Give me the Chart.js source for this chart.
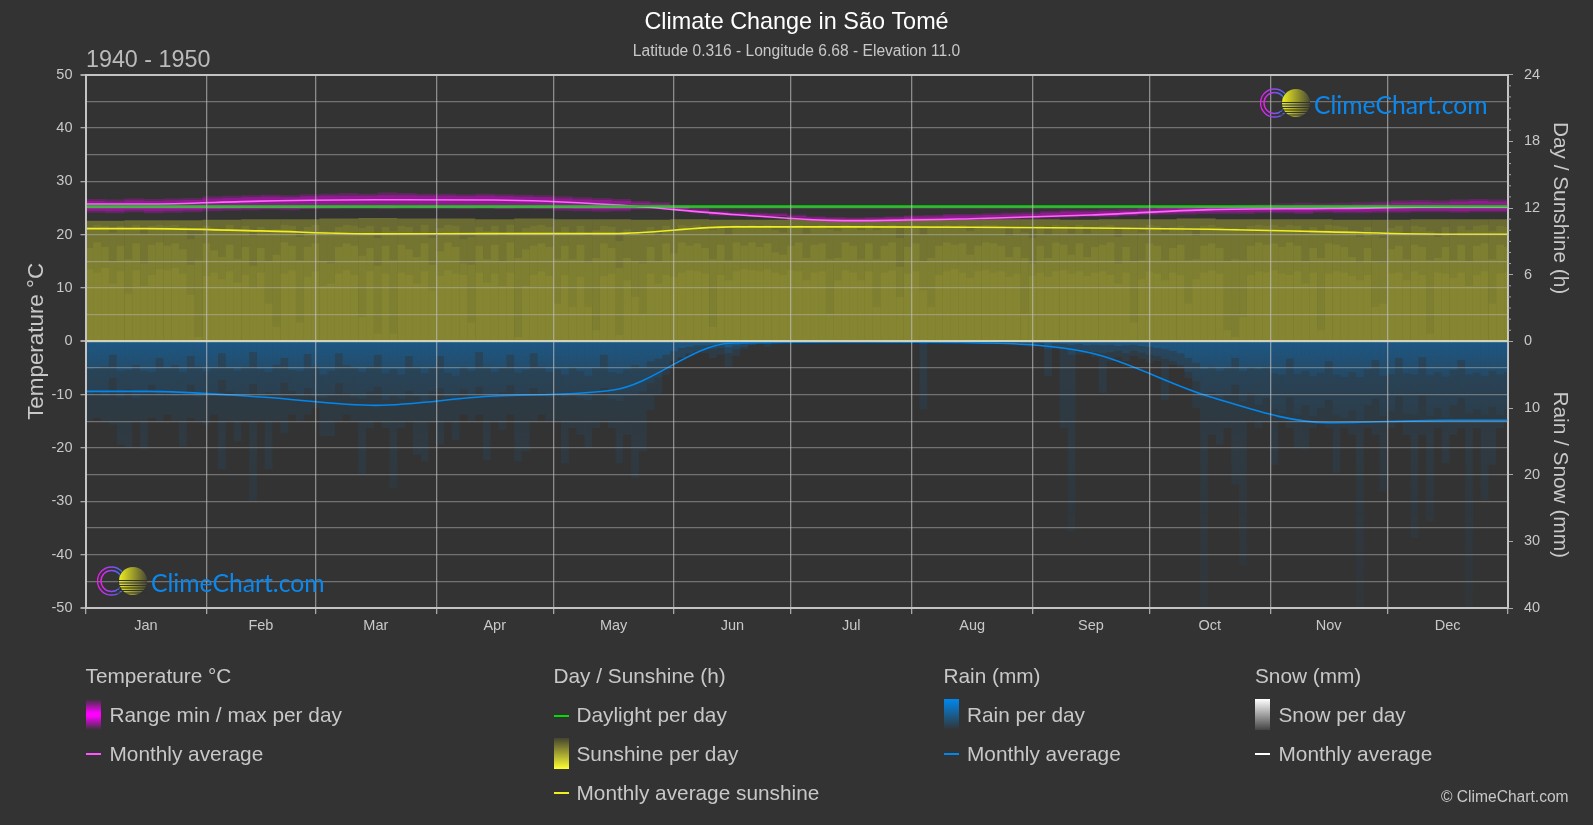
<!DOCTYPE html>
<html>
<head>
<meta charset="utf-8">
<title>Climate Change in São Tomé</title>
<script src="https://cdn.jsdelivr.net/npm/chart.js@4"></script>
<style>
  html, body { margin: 0; padding: 0; background: #333; overflow: hidden; }
  body { width: 1593px; height: 825px; position: relative; font-family: "Liberation Sans", Arial, sans-serif; color: #c8c8c8; }
  canvas { position: absolute; left: 0; top: 0; }
  .txt { position: absolute; white-space: nowrap; transform: translateY(-50%); font-size: 20.8px; line-height: 24px; }
  .period { font-size: 23.3px; color: #bbb; }
  .copy { font-size: 15.6px; }
  .brand { font-family: Lato, sans-serif; font-size: 24.7px; color: #0a88ee; }
  .swatch { position: absolute; width: 15px; height: 31px; }
  .dash { position: absolute; width: 15px; height: 2px; }
  .logo { position: absolute; width: 50px; height: 30px; }
</style>
</head>
<body>
<canvas id="chart" width="1593" height="825"></canvas>

<svg width="0" height="0" style="position:absolute">
  <defs>
    <linearGradient id="ringGrad" x1="0" x2="1" y1="0" y2="0">
      <stop offset="0" stop-color="#f01cf0"/><stop offset="1" stop-color="#2a78f0"/>
    </linearGradient>
    <linearGradient id="sunGrad" x1="0" x2="1" y1="0" y2="0">
      <stop offset="0" stop-color="#eeee22"/><stop offset="1" stop-color="#4a4a33"/>
    </linearGradient>
    <symbol id="logoMark" viewBox="0 0 50 30">
      <circle cx="14.5" cy="15" r="14" fill="none" stroke="url(#ringGrad)" stroke-width="1.4"/>
      <circle cx="14.5" cy="15" r="10.5" fill="none" stroke="url(#ringGrad)" stroke-width="1.4"/>
      <circle cx="36" cy="15" r="14.5" fill="#333"/>
      <circle cx="36" cy="15" r="14" fill="url(#sunGrad)"/>
      <g stroke="#333" stroke-width="1">
        <line x1="20" x2="50" y1="14.5" y2="14.5"/><line x1="20" x2="50" y1="17" y2="17"/>
        <line x1="20" x2="50" y1="19.5" y2="19.5"/><line x1="20" x2="50" y1="22" y2="22"/>
        <line x1="20" x2="50" y1="24.5" y2="24.5"/><line x1="20" x2="50" y1="27" y2="27"/>
      </g>
    </symbol>
  </defs>
</svg>

<div class="txt period" style="left:86px;top:59px">1940 - 1950</div>

<svg class="logo" style="left:1260px;top:88px"><use href="#logoMark"/></svg>
<div class="txt brand" style="left:1314px;top:105px">ClimeChart.com</div>
<svg class="logo" style="left:97px;top:566px"><use href="#logoMark"/></svg>
<div class="txt brand" style="left:151px;top:583px">ClimeChart.com</div>

<div class="txt" style="left:85.5px;top:676px">Temperature °C</div>
<div class="swatch" style="left:85.5px;top:699px;background:linear-gradient(#333,#f0f 45%,#f0f 55%,#333)"></div>
<div class="txt" style="left:109.5px;top:715px">Range min / max per day</div>
<div class="dash" style="left:85.5px;top:753px;background:#ff55ff"></div>
<div class="txt" style="left:109.5px;top:754px">Monthly average</div>

<div class="txt" style="left:553.5px;top:676px">Day / Sunshine (h)</div>
<div class="dash" style="left:553.5px;top:714.5px;background:#00dd00"></div>
<div class="txt" style="left:576.5px;top:715px">Daylight per day</div>
<div class="swatch" style="left:553.5px;top:738px;background:linear-gradient(#44442f,#ffff33)"></div>
<div class="txt" style="left:576.5px;top:754px">Sunshine per day</div>
<div class="dash" style="left:553.5px;top:792px;background:#eeee22"></div>
<div class="txt" style="left:576.5px;top:793px">Monthly average sunshine</div>

<div class="txt" style="left:943.5px;top:676px">Rain (mm)</div>
<div class="swatch" style="left:943.5px;top:699px;background:linear-gradient(#0088ee,#333)"></div>
<div class="txt" style="left:967px;top:715px">Rain per day</div>
<div class="dash" style="left:943.5px;top:753px;background:#0088ee"></div>
<div class="txt" style="left:967px;top:754px">Monthly average</div>

<div class="txt" style="left:1255px;top:676px">Snow (mm)</div>
<div class="swatch" style="left:1255px;top:699px;background:linear-gradient(#fff,#444)"></div>
<div class="txt" style="left:1278.5px;top:715px">Snow per day</div>
<div class="dash" style="left:1255px;top:753px;background:#fff"></div>
<div class="txt" style="left:1278.5px;top:754px">Monthly average</div>

<div class="txt copy" style="left:1441px;top:797px">© ClimeChart.com</div>

<script>
const monthLabels = ["Jan", "Feb", "Mar", "Apr", "May", "Jun", "Jul", "Aug", "Sep", "Oct", "Nov", "Dec"];
const monthEdges = [0, 31, 59, 90, 120, 151, 181, 212, 243, 273, 304, 334, 365];
const monthMids = [15.5, 45, 74.5, 105, 135.5, 166, 196.5, 227.5, 258, 288.5, 319, 349.5];

// monthly averages
const tempMonthly = [25.75, 26.3, 26.55, 26.5, 25.6, 23.8, 22.6, 23.0, 23.7, 24.7, 24.9, 25.2];
const daylightMonthly = [12.15, 12.15, 12.15, 12.15, 12.15, 12.15, 12.15, 12.15, 12.15, 12.15, 12.15, 12.15];
const sunMonthly = [10.15, 9.94, 9.67, 9.7, 9.7, 10.3, 10.3, 10.27, 10.2, 10.09, 9.85, 9.64];
const rainMonthly = [7.5, 8.35, 9.6, 8.2, 7.3, 0.25, 0.1, 0.2, 1.75, 8.3, 12.2, 11.85];
const snowMonthly = [0, 0, 0, 0, 0, 0, 0, 0, 0, 0, 0, 0];

// temperature band, one value per 5 days
const tempMax = [
  26.7,26.6,26.8,26.7,26.8,26.9, 27.2,27.3,27.4,27.5,27.4,27.6,
  27.7,27.8,27.7,27.9,27.8,27.7, 27.7,27.6,27.7,27.6,27.5,27.4,
  27.2,27.0,26.9,26.7,26.3,26.1, 25.6,24.9,24.4,24.2,24.1,24.0,
  23.8,23.4,23.3,23.2,23.3,23.4, 23.6,23.7,23.9,23.9,24.0,24.1,
  24.2,24.4,24.6,24.6,24.7,24.8, 25.0,25.2,25.3,25.5,25.5,25.6,
  25.7,25.9,26.0,25.9,26.0,26.1, 26.2,26.4,26.5,26.4,26.6,26.7,26.6];
const tempMin = [
  24.1,24.0,24.2,24.0,24.1,24.2, 24.4,24.5,24.6,24.7,24.6,24.8,
  24.9,25.0,25.0,24.9,25.1,25.0, 25.0,24.9,25.0,24.8,24.9,24.8,
  24.5,24.4,24.3,24.4,24.7,24.9, 24.6,24.0,23.6,23.5,23.4,23.4,
  23.0,22.5,22.3,22.3,22.4,22.4, 22.5,22.6,22.6,22.7,22.8,22.9,
  23.0,23.1,23.2,23.3,23.3,23.5, 23.7,23.8,23.8,23.9,23.9,23.9,
  24.0,24.0,23.9,24.1,24.0,24.0, 24.1,24.1,24.2,24.2,24.1,24.2,24.2];
const tempCoreMax = [
  26.3,26.2,26.4,26.3,26.4,26.5, 26.8,26.9,27.0,27.1,27.0,27.2,
  27.3,27.3,27.3,27.4,27.4,27.3, 27.3,27.2,27.3,27.2,27.1,27.0,
  26.8,26.6,26.5,26.3,26.0,25.8, 25.3,24.6,24.2,24.0,23.9,23.8,
  23.5,23.2,23.1,23.0,23.1,23.2, 23.4,23.4,23.6,23.6,23.7,23.8,
  23.9,24.1,24.3,24.3,24.4,24.5, 24.7,24.9,25.0,25.2,25.2,25.3,
  25.4,25.5,25.6,25.6,25.6,25.7, 25.8,26.0,26.1,26.0,26.2,26.3,26.2];
const tempCoreMin = [
  24.5,24.4,24.6,24.4,24.5,24.6, 24.8,24.9,25.0,25.1,25.0,25.2,
  25.3,25.4,25.4,25.3,25.5,25.4, 25.4,25.3,25.4,25.2,25.3,25.2,
  24.9,24.8,24.7,24.7,24.9,25.1, 24.8,24.2,23.8,23.6,23.5,23.5,
  23.2,22.6,22.5,22.4,22.5,22.5, 22.6,22.8,22.8,22.9,23.0,23.1,
  23.2,23.3,23.4,23.5,23.5,23.7, 23.9,24.0,24.1,24.2,24.2,24.2,
  24.3,24.3,24.2,24.4,24.3,24.3, 24.4,24.4,24.5,24.5,24.4,24.5,24.5];

// sunshine per day (hours): top edge per 10 days, the others per 2 days
const sunshineHigh = [
  10.85,10.9,10.9,10.95,11.0,11.0,11.05,11.1,11.05,11.05,11.0,11.05,11.0,11.0,10.95,
  11.0,10.95,10.95,11.0,11.0,11.0,11.05,10.95,11.0,11.0,10.95,11.0,11.0,11.05,11.0,
  11.0,11.0,10.95,10.95,11.0,11.0,11.0];
const sunshineUpper = [
  10.3,10.5,10.4,9.8,10.4,10.1,10.5,9.7,10.4,10.5,
  10.4,10.5,10.3,9.2,9.6,10.4,10.2,10.0,10.5,9.9,
  10.4,9.5,10.3,9.8,10.1,10.5,10.4,9.4,10.3,10.5,
  9.9,9.6,10.3,10.5,10.4,10.2,10.4,9.3,10.3,9.9,
  10.4,10.3,9.8,10.5,9.3,10.2,10.5,10.4,9.2,9.4,
  10.3,9.9,10.4,9.5,10.5,9.8,10.2,10.4,10.5,10.3,
  9.8,10.3,9.7,10.4,9.5,10.0,10.4,10.3,9.0,10.1,
  9.8,9.6,10.3,9.5,10.4,10.1,10.5,10.4,10.5,10.3,
  10.0,10.4,9.6,10.5,10.4,10.5,10.3,10.5,10.0,9.8,
  10.4,10.5,9.7,10.4,10.5,10.1,9.9,10.5,10.4,10.0,
  10.5,10.0,10.4,10.5,9.3,10.4,10.5,9.6,10.2,10.4,
  10.5,10.4,10.5,9.9,10.4,10.5,10.5,10.4,9.5,10.3,
  9.8,9.3,10.4,9.6,10.5,10.4,9.7,10.5,9.7,10.3,
  10.4,10.5,9.4,10.3,10.0,9.8,10.5,10.4,9.8,10.3,
  10.4,9.9,9.5,10.4,10.5,10.3,10.0,10.2,9.9,10.4,
  10.5,10.4,10.5,10.3,10.5,10.4,9.7,10.3,9.9,10.5,
  10.4,10.3,9.8,9.4,10.3,9.5,9.3,10.2,10.4,9.7,
  10.4,10.3,9.9,9.4,10.3,9.5,10.4,10.0,10.4,10.5,
  9.9,10.4,10.3];
const sunshineMid = [
  8.4,8.9,8.5,7.2,8.6,7.4,8.8,7.0,8.7,8.9,
  8.6,8.8,8.3,6.9,7.3,8.8,8.2,7.6,8.7,7.4,
  8.5,6.8,8.4,7.2,7.8,8.9,8.6,7.3,8.5,8.8,
  7.2,7.0,8.5,8.8,8.6,7.7,8.4,6.8,8.6,7.3,
  8.7,8.3,7.6,8.8,6.9,8.1,8.9,8.5,7.0,6.9,
  8.6,7.4,8.7,7.2,8.9,7.5,8.3,8.6,8.8,8.5,
  7.4,8.6,7.4,8.7,7.1,7.5,8.8,8.4,6.6,7.5,
  7.2,7.0,8.5,7.2,8.8,7.9,8.9,8.6,8.8,8.4,
  7.4,8.7,7.3,8.9,8.6,8.9,8.5,8.8,8.0,7.8,
  8.6,8.9,7.5,8.7,8.8,7.4,7.5,8.9,8.6,7.4,
  8.8,7.4,8.6,8.9,6.7,8.5,8.8,7.2,7.5,8.6,
  8.9,8.7,8.8,7.8,8.6,8.9,8.8,8.6,7.6,8.5,
  7.5,7.0,8.6,7.5,8.9,8.7,7.8,8.8,7.6,8.5,
  8.7,8.9,7.0,8.5,7.2,7.3,8.8,8.6,7.3,8.4,
  8.7,7.3,7.4,8.6,8.8,8.4,7.2,7.4,7.3,8.6,
  8.9,8.7,8.8,8.5,8.9,8.6,7.2,8.4,7.5,8.8,
  8.7,8.5,7.6,7.1,8.4,7.2,7.1,8.3,8.6,7.4,
  8.7,8.5,7.3,7.5,8.5,7.3,8.7,7.2,8.6,8.8,
  7.4,8.7,8.5];
const sunshineLow = [
  6.5,6.2,6.6,5.2,6.3,4.3,6.4,5.0,6.0,6.5,
  6.4,6.6,6.1,4.2,0.4,5.9,6.2,5.6,6.3,5.3,
  6.0,4.8,6.2,3.4,1.3,6.1,6.4,1.7,5.8,6.3,
  5.0,5.2,6.1,6.4,6.0,2.2,6.3,0.7,6.1,0.7,
  6.2,6.0,5.2,6.3,4.6,5.9,6.4,6.1,6.0,1.7,
  6.2,5.3,6.1,5.0,6.2,0.4,5.0,6.0,6.3,5.9,
  3.4,6.0,3.1,5.8,3.1,1.0,5.9,6.1,0.6,5.5,
  4.0,2.5,6.1,5.2,6.0,5.8,6.2,6.4,6.3,6.1,
  1.3,6.0,5.5,6.3,6.5,6.4,6.3,6.5,6.2,6.0,
  6.4,6.3,5.5,6.2,6.3,2.5,5.5,6.4,6.2,5.5,
  6.3,3.1,6.2,6.4,4.0,6.1,6.3,4.6,3.1,6.0,
  6.3,6.5,6.2,5.7,6.3,6.4,6.2,6.3,5.8,6.1,
  2.5,5.9,6.2,5.8,6.3,6.4,6.1,6.3,5.9,6.2,
  6.3,6.0,5.2,6.2,1.7,5.6,6.3,6.1,5.5,6.2,
  6.0,3.4,5.6,6.2,6.4,6.1,1.0,0.4,2.2,6.0,
  6.3,6.2,6.4,6.1,6.0,6.3,5.2,6.2,1.0,6.1,
  6.3,6.2,5.9,5.5,6.0,3.1,3.4,6.1,6.2,5.5,
  6.3,6.0,0.7,6.2,6.1,5.7,6.2,5.0,6.0,6.3,
  3.4,6.1,6.2];

// rain per day (mm), per 2 days: bright part, middle part and the faint spikes
const rainLow = [
  4.2,4.0,3.8,2.0,4.5,4.3,3.6,4.4,4.6,2.5,
  4.0,3.6,4.6,2.2,3.8,4.5,4.0,1.8,4.0,4.4,
  3.8,1.6,4.2,4.6,3.5,2.5,4.3,4.5,1.9,3.8,
  5.0,4.4,1.8,3.6,3.9,4.6,3.8,2.0,4.8,4.2,
  5.0,2.2,3.9,4.8,4.0,2.2,4.7,5.2,3.8,4.4,
  1.6,3.9,4.6,4.0,2.0,4.7,4.3,1.8,3.8,4.6,
  4.2,5.0,3.9,4.5,5.2,4.0,2.0,4.6,4.8,4.2,
  3.6,4.0,3.0,2.6,2.0,1.5,1.0,0.8,0.6,0.6,
  0.5,0.4,0.9,0.6,0.4,0.2,0.1,0.1,0.1,0.1,
  0.1,0.1,0.1,0.1,0.1,0.1,0.1,0.1,0.1,0.1,
  0.1,0.1,0.1,0.1,0.1,0.1,0.1,0.1,0.1,0.1,
  0.1,0.1,0.1,0.1,0.1,0.1,0.1,0.1,0.1,0.1,
  0.2,0.3,0.2,0.5,0.3,0.4,0.5,0.4,0.6,0.5,
  0.6,0.5,0.7,0.6,0.5,0.7,0.8,1.0,1.2,1.4,
  1.8,2.5,3.2,4.2,3.8,4.4,4.0,2.5,4.5,3.9,
  4.2,3.8,4.8,5.0,2.6,4.9,4.4,5.2,4.7,3.0,
  5.0,5.3,4.6,5.4,4.2,2.8,5.2,4.9,2.5,4.8,
  5.0,2.4,5.1,4.6,5.3,4.3,2.8,5.0,4.7,5.2,
  4.4,5.0,4.6];
const rainMid = [
  8.0,7.5,8.2,5.5,8.4,7.2,8.5,7.8,6.5,8.0,
  7.4,8.2,7.6,6.5,8.3,7.9,8.0,5.8,7.5,8.2,
  8.0,6.4,8.3,7.6,8.1,6.2,7.4,8.2,7.0,8.4,
  8.5,8.0,6.3,7.8,8.4,8.6,7.5,6.8,8.8,8.2,
  8.6,7.4,8.2,9.0,7.5,7.0,8.4,8.9,7.2,8.5,
  6.8,8.3,8.5,7.6,6.6,8.0,8.2,7.0,7.8,8.4,
  8.0,8.4,7.6,8.5,8.8,7.4,7.0,8.6,8.9,8.2,
  8.0,7.5,6.2,5.4,4.0,3.0,2.4,1.8,1.4,1.2,
  1.2,1.0,1.8,1.2,0.8,0.5,0.3,0.4,0.2,0.2,
  0.2,0.1,0.1,0.2,0.1,0.1,0.1,0.1,0.2,0.1,
  0.1,0.1,0.1,0.2,0.1,0.1,0.1,0.4,0.2,0.1,
  0.1,0.1,0.1,0.2,0.1,0.2,0.1,0.1,0.2,0.3,
  0.4,0.5,0.4,1.2,0.8,1.2,2.0,1.2,1.4,1.6,
  1.8,1.6,1.4,1.8,1.4,1.7,2.0,2.2,2.6,3.0,
  3.5,4.6,6.0,8.5,7.6,8.8,8.0,6.5,9.0,7.8,
  9.5,8.5,10.2,10.8,8.4,11.0,9.6,11.2,10.0,8.8,
  11.0,11.5,10.4,11.8,9.5,8.6,11.2,10.5,8.2,10.8,
  11.0,8.0,11.2,10.0,11.4,9.6,8.5,10.8,10.2,11.0,
  9.8,11.0,10.2];
const rainPeak = [
  12,11.5,12,12.5,15.5,16,12,16.2,11.5,12,
  11,12,15.8,11.5,12,12.5,11,19.2,12,15,
  12,24,12,19.2,12,13.8,11,12,11,10,
  14.2,14.2,12,11,12,20,13,12,13,22,
  13,12,17,18,12,15.5,12,14.8,11,12,
  11,17.8,12,13.3,11,18,16.5,12,11,12,
  12,18.3,13,14,16,13,12,13,18.3,14,
  20.5,16.5,10.3,8,5,3,2.5,2,1.6,1.8,
  2.5,2,3.8,2.2,1.2,0.6,0.4,0.8,0.3,0.2,
  0.2,0.1,0.1,0.2,0.1,0.1,0.1,0.2,0.1,0.1,
  0.1,0.2,0.1,0.1,0.1,0.3,0.1,10.2,0.2,0.1,
  0.1,0.1,0.2,0.1,0.1,0.2,0.3,0.1,0.2,0.4,
  0.6,0.8,0.5,5.2,1.2,13,28.5,2,1.8,2.4,
  7.7,3,2.4,3,2.2,2.6,3.2,3,8.8,3.5,
  4,5.5,10,40,14,15.5,13,21.5,33.5,12,
  13,12,18.5,12,13,16,16.2,13,12,13,
  19.8,13,14,40,13,14,22.5,13,12,14,
  29.5,14,27,13,18.3,14,13,40,13,23.8,
  18.5,13,12];

const textColor = "#c8c8c8";
const frameColor = "#c4c4c4";
const dayWidth = 1422.5 / 365; // plot width per day, bars of a layer must just touch
const rainTopPx = 341.3;       // canvas y of 0 mm, only used for the fade
const rainMmPx = 6.67;         // canvas height of 1 mm

// the line runs flat to both chart edges, so repeat the first and last month there
function monthlyPoints(values) {
  const points = values.map((v, i) => ({ x: monthMids[i], y: v }));
  points.unshift({ x: 0, y: values[0] });
  points.push({ x: 365, y: values[values.length - 1] });
  return points;
}

function binPoints(values, step) {
  return values.map((v, i) => ({ x: i * step + step / 2, y: v }));
}

function bandPoints(lows, highs, step) {
  return lows.map((v, i) => ({ x: i * step + step / 2, y: [v, highs[i]] }));
}

// rain colour that gets weaker with depth
function rainFade(depth, fromAlpha, toAlpha) {
  return (c) => {
    const g = c.chart.ctx.createLinearGradient(0, rainTopPx, 0, rainTopPx + depth * rainMmPx);
    g.addColorStop(0, `rgba(0,136,238,${fromAlpha})`);
    g.addColorStop(1, `rgba(0,136,238,${toAlpha})`);
    return g;
  };
}

function barLayer(data, step, yAxisID, color, order) {
  return {
    type: "bar", data, yAxisID, order,
    backgroundColor: color,
    borderWidth: 0,
    grouped: false,
    barThickness: step * dayWidth,
    inflateAmount: 0,
  };
}

function lineLayer(values, yAxisID, color, width = 1.6) {
  return {
    type: "line", data: monthlyPoints(values), yAxisID, order: 0,
    borderColor: color,
    borderWidth: width,
    pointRadius: 0,
    cubicInterpolationMode: "monotone",
  };
}

// short unlabelled ticks on the hours axis
const minorTicks = {
  id: "minorTicks",
  afterDraw(chart) {
    const scale = chart.scales.ySun;
    const ctx = chart.ctx;
    ctx.save();
    ctx.strokeStyle = "#a8a8a8";
    ctx.lineWidth = 1;
    for (let h = 1; h < 24; h++) {
      if (h % 6 === 0) continue;
      const y = scale.getPixelForValue(h);
      ctx.beginPath();
      ctx.moveTo(chart.chartArea.right, y);
      ctx.lineTo(chart.chartArea.right + 3, y);
      ctx.stroke();
    }
    ctx.restore();
  },
};

const tickFont = { family: "'Liberation Sans', Arial, sans-serif", size: 14.5 };
const titleFont = { family: "'Liberation Sans', Arial, sans-serif", size: 20.8 };

new Chart(document.getElementById("chart"), {
  type: "bar",
  plugins: [minorTicks],
  data: {
    datasets: [
      lineLayer(rainMonthly, "yRain", "#0088ee"),
      lineLayer(daylightMonthly, "ySun", "#00dd00", 2),
      lineLayer(tempMonthly, "yTemp", "#ff66ff"),
      lineLayer(sunMonthly, "ySun", "#eeee22"),
      lineLayer(snowMonthly, "yRain", "rgba(255,255,255,0.55)"),
      barLayer(bandPoints(tempCoreMin, tempCoreMax, 5), 5, "yTemp", "rgba(255,0,255,0.3)", 1),
      barLayer(bandPoints(tempMin, tempMax, 5), 5, "yTemp", "rgba(255,0,255,0.22)", 2),
      barLayer(binPoints(sunshineLow, 2), 2, "ySun", "rgba(255,255,50,0.05)", 3),
      barLayer(binPoints(sunshineMid, 2), 2, "ySun", "rgba(255,255,50,0.07)", 4),
      barLayer(binPoints(sunshineUpper, 2), 2, "ySun", "rgba(255,255,50,0.08)", 5),
      barLayer(binPoints(sunshineHigh, 10), 10, "ySun", "rgba(255,255,50,0.27)", 6),
      barLayer(binPoints(rainLow, 2), 2, "yRain", rainFade(5.4, 0.26, 0.1), 7),
      barLayer(binPoints(rainMid, 2), 2, "yRain", rainFade(12, 0.14, 0.05), 8),
      barLayer(binPoints(rainPeak, 2), 2, "yRain", rainFade(40, 0.1, 0.04), 9),
    ],
  },
  options: {
    responsive: false,
    animation: false,
    devicePixelRatio: 1,
    layout: { padding: 0 },
    plugins: {
      legend: { display: false },
      tooltip: { enabled: false },
      title: {
        display: true,
        text: "Climate Change in São Tomé",
        color: "#ffffff",
        font: { ...titleFont, size: 23.4, weight: "normal" },
        padding: { top: 8.4, bottom: 3 },
      },
      subtitle: {
        display: true,
        text: "Latitude 0.316 - Longitude 6.68 - Elevation 11.0",
        color: textColor,
        font: { ...titleFont, size: 15.6 },
        padding: { top: 3.2, bottom: 13.3 },
      },
    },
    scales: {
      x: {
        type: "linear",
        min: 0,
        max: 365,
        offset: false,
        afterBuildTicks: (axis) => {
          axis.ticks = monthEdges.concat(monthMids).sort((a, b) => a - b).map((value) => ({ value }));
        },
        afterFit: (axis) => { axis.height = 217; },
        border: { display: false },
        grid: {
          z: 1,
          offset: false,
          tickLength: 6,
          lineWidth: 1.3,
          color: (c) => (monthEdges.includes(c.tick.value) ? "rgba(200,200,200,0.6)" : "transparent"),
          tickColor: (c) => (monthEdges.includes(c.tick.value) ? "#a8a8a8" : "transparent"),
        },
        ticks: {
          autoSkip: false,
          maxRotation: 0,
          padding: 3,
          color: textColor,
          font: tickFont,
          callback: (value) => {
            const i = monthMids.indexOf(value);
            return i >= 0 ? monthLabels[i] : "";
          },
        },
      },
      yTemp: {
        type: "linear",
        position: "left",
        min: -50,
        max: 50,
        afterFit: (axis) => { axis.width = 85.5; },
        title: { display: true, text: "Temperature °C", color: textColor, font: { ...titleFont, size: 22.4 }, padding: { top: 23, bottom: 0 } },
        // the border needs the grid drawn first, so both share a z
        border: { color: frameColor, width: 2, z: 1 },
        grid: {
          z: 1,
          tickLength: 5,
          lineWidth: (c) => (c.tick.value === 0 || Math.abs(c.tick.value) === 50 ? 2 : 1.3),
          color: (c) => {
            if (c.tick.value === 0) return "rgba(215,215,190,0.95)";
            if (Math.abs(c.tick.value) === 50) return frameColor;
            return "rgba(190,190,190,0.45)";
          },
          tickColor: (c) => (c.tick.value % 10 === 0 ? "#a8a8a8" : "transparent"),
        },
        ticks: {
          stepSize: 5,
          autoSkip: false,
          padding: 8,
          color: textColor,
          font: tickFont,
          callback: (value) => (value % 10 === 0 ? value : ""),
        },
      },
      ySun: {
        type: "linear",
        position: "right",
        stack: "right",
        stackWeight: 1,
        weight: 1,
        min: 0,
        max: 24,
        afterFit: (axis) => { axis.width = 85; },
        title: { display: true, text: "Day / Sunshine (h)", color: textColor, font: titleFont, padding: { top: 20.5, bottom: 0 } },
        border: { color: frameColor, width: 2 },
        grid: { drawOnChartArea: false, tickLength: 5, tickColor: "#a8a8a8" },
        ticks: { stepSize: 6, padding: 11, color: textColor, font: tickFont },
      },
      yRain: {
        type: "linear",
        position: "right",
        stack: "right",
        stackWeight: 1,
        weight: 2,
        min: 0,
        max: 40,
        reverse: true,
        afterFit: (axis) => { axis.width = 85; },
        title: { display: true, text: "Rain / Snow (mm)", color: textColor, font: titleFont, padding: { top: 20.5, bottom: 0 } },
        border: { color: frameColor, width: 2 },
        grid: { drawOnChartArea: false, tickLength: 5, tickColor: "#a8a8a8" },
        ticks: {
          stepSize: 10,
          padding: 11,
          color: textColor,
          font: tickFont,
          callback: (value) => (value === 0 ? "" : value),
        },
      },
    },
  },
});
</script>
</body>
</html>
